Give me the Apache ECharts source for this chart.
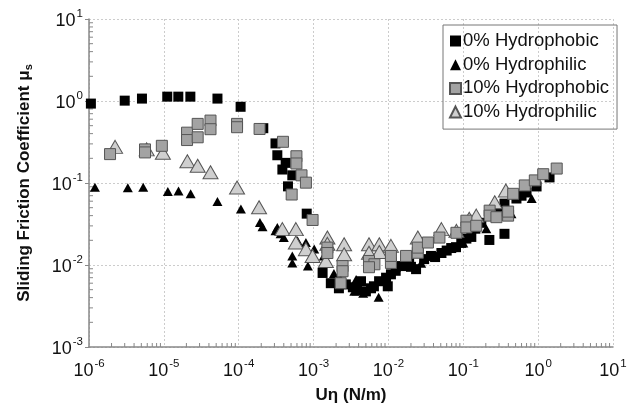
<!DOCTYPE html>
<html>
<head>
<meta charset="utf-8">
<script src="https://cdn.jsdelivr.net/npm/echarts@6/dist/echarts.min.js"></script>
<style>
html,body{margin:0;padding:0;background:#fff;}
#c{width:632px;height:412px;}
</style>
</head>
<body>
<div id="c"></div>
<script>
// Data (Uη in N/m, sliding friction coefficient μs)
const hydrophobic0 = [
  [1.06e-6,0.93],[3.0e-6,1.01],[5.1e-6,1.07],[1.11e-5,1.13],[1.56e-5,1.13],[2.26e-5,1.13],[5.2e-5,1.07],[1.06e-4,0.85],
  [2.13e-4,0.466],[3.1e-4,0.304],[3.28e-4,0.218],[4.24e-4,0.176],[3.83e-4,0.146],[5.2e-4,0.124],[4.55e-4,0.091],[8.1e-4,0.0423],
  [1.32e-3,0.0080],[1.70e-3,0.0060],[2.18e-3,0.0052],[2.7e-3,0.0058],[3.35e-3,0.00535],[3.8e-3,0.0049],[4.3e-3,0.00634],
  [5.0e-3,0.00477],[5.85e-3,0.0052],[6.4e-3,0.0055],[7.5e-3,0.00634],[9.3e-3,0.0070],[9.8e-3,0.0055],[1.08e-2,0.0077],
  [1.25e-2,0.0085],[1.48e-2,0.0097],[1.89e-2,0.0105],[2.0e-2,0.0095],[2.34e-2,0.0089],[3.0e-2,0.0118],[3.7e-2,0.0129],
  [4.2e-2,0.0125],[5.1e-2,0.0140],[6.0e-2,0.0150],[6.9e-2,0.0161],[8.0e-2,0.0165],[9.4e-2,0.0186],[0.11,0.021],[0.128,0.022],
  [0.145,0.0277],[0.174,0.0327],[0.223,0.0202],[0.237,0.040],[0.3,0.045],[0.355,0.024],[0.355,0.056],[0.513,0.0647],
  [0.6,0.070],[0.70,0.0766],[0.953,0.0908],[1.42,0.117]
];
const hydrophilic0 = [
  [1.2e-6,0.089],[3.3e-6,0.0876],[5.3e-6,0.089],[1.13e-5,0.0788],[1.57e-5,0.080],[2.28e-5,0.0738],[5.2e-5,0.0594],
  [1.07e-4,0.0483],[1.92e-4,0.033],[2.08e-4,0.0292],[3.28e-4,0.0287],[3.1e-4,0.0261],[3.63e-4,0.024],[4.0e-4,0.0216],
  [5.2e-4,0.0129],[5.2e-4,0.0106],[6.1e-4,0.0197],[7.9e-4,0.0188],[1.02e-3,0.0157],[8.4e-4,0.0097],[1.37e-3,0.0129],
  [1.87e-3,0.0079],[2.3e-3,0.0067],[3.7e-3,0.00665],[3.5e-3,0.00477],[4.6e-3,0.00451],[7.4e-3,0.00403],[1.26e-2,0.0094],
  [2.74e-2,0.0105],[5.1e-2,0.0140],[0.1,0.0186],[0.203,0.0277],[0.44,0.0423],[0.82,0.0647]
];
const hydrophobic10 = [
  [1.91e-6,0.225],[5.6e-6,0.257],[5.6e-6,0.236],[9.4e-6,0.284],[2.04e-5,0.411],[2.04e-5,0.334],[2.83e-5,0.526],
  [2.83e-5,0.361],[4.2e-5,0.577],[4.2e-5,0.453],[9.5e-5,0.526],[9.5e-5,0.479],[1.9e-4,0.456],[3.9e-4,0.318],
  [5.9e-4,0.212],[5.9e-4,0.173],[6.9e-4,0.124],[7.9e-4,0.101],[5.1e-4,0.0724],[9.7e-4,0.0354],[1.53e-3,0.0163],
  [1.53e-3,0.0140],[2.44e-3,0.0097],[2.44e-3,0.0084],[2.3e-3,0.0060],[5.5e-3,0.0112],[6.5e-3,0.0102],[5.5e-3,0.0094],
  [1.08e-2,0.0106],[1.08e-2,0.0129],[1.72e-2,0.0129],[2.47e-2,0.0141],[2.47e-2,0.0163],[3.37e-2,0.0188],[4.8e-2,0.0216],
  [8.1e-2,0.0247],[0.11,0.0347],[0.11,0.0287],[0.149,0.0301],[0.225,0.046],[0.225,0.040],[0.277,0.0383],[0.397,0.040],
  [0.397,0.0448],[0.464,0.0738],[0.663,0.0934],[0.903,0.1076],[1.17,0.128],[1.77,0.150]
];
const hydrophilic10 = [
  [2.23e-6,0.276],[5.9e-6,0.257],[9.7e-6,0.234],[2.06e-5,0.184],[2.83e-5,0.162],[4.2e-5,0.135],[9.5e-5,0.0883],
  [1.87e-4,0.0505],[3.83e-4,0.0274],[5.8e-4,0.0274],[5.8e-4,0.0188],[7.9e-4,0.0156],[9.7e-4,0.0129],[1.53e-3,0.0216],
  [1.53e-3,0.0181],[1.46e-3,0.0112],[2.56e-3,0.0179],[2.56e-3,0.0135],[5.5e-3,0.0179],[7.55e-3,0.0179],[1.08e-2,0.0171],
  [5.5e-3,0.0141],[7.55e-3,0.0144],[2.47e-2,0.0216],[5.1e-2,0.0274],[8.1e-2,0.0261],[0.12,0.0367],[0.149,0.040],
  [0.263,0.0582],[0.37,0.0811]
];
const seriesNames = ['0% Hydrophobic','0% Hydrophilic','10% Hydrophobic','10% Hydrophilic'];
const xRange = [1e-6, 10];
const yRange = [1e-3, 10];

// minor ticks (2..9 x 10^k) for log axes
const minorTicks = [];
for (let k = -6; k < 1; k++) for (let m = 2; m <= 9; m++) minorTicks.push([m * Math.pow(10, k), yRange[0], 0]);
for (let k = -3; k < 1; k++) for (let m = 2; m <= 9; m++) minorTicks.push([xRange[0], m * Math.pow(10, k), 1]);

const font = 'Liberation Sans, Arial, sans-serif';
const fmt = v => '{b|10}{s|' + Math.round(Math.log10(v)) + '}';
const labelRich = {
  b: {fontSize: 18, fontFamily: font, color: '#111', lineHeight: 22, verticalAlign: 'bottom'},
  s: {fontSize: 11.5, fontFamily: font, color: '#111', lineHeight: 22, verticalAlign: 'top', padding:[0,0,0,1]}
};

const chart = echarts.init(document.getElementById('c'), null, {renderer: 'canvas'});
chart.setOption({
  animation: false,
  backgroundColor: '#fff',
  grid: {left: 89, right: 19, top: 19, bottom: 65},
  legend: {
    data: seriesNames,
    orient: 'vertical',
    left: 443, top: 25,
    padding: [6, 8, 7, 6],
    itemGap: 3.7,
    itemWidth: 11, itemHeight: 11,
    borderColor: '#777', borderWidth: 1,
    textStyle: {fontSize: 18.5, fontFamily: font, color: '#111', lineHeight: 20, padding: [0,0,0,-3]}
  },
  xAxis: {
    type: 'log', logBase: 10, min: xRange[0], max: xRange[1],
    name: 'Uη (N/m)', nameLocation: 'middle', nameGap: 40,
    nameTextStyle: {fontSize: 17, fontWeight: 'bold', fontFamily: font, color: '#111'},
    axisLine: {lineStyle: {color: '#888', width: 1.5}},
    axisTick: {show: false},
    axisLabel: {formatter: fmt, rich: labelRich, margin: 11},
    splitLine: {show: true, lineStyle: {color: '#ccc', type: [2, 2], width: 1}}
  },
  yAxis: {
    type: 'log', logBase: 10, min: yRange[0], max: yRange[1],
    name: 'Sliding Friction Coefficient μ{sub|s}', nameLocation: 'middle', nameGap: 55,
    nameTextStyle: {fontSize: 17, fontWeight: 'bold', fontFamily: font, color: '#111',
      rich: {sub: {fontSize: 11, fontWeight: 'bold', fontFamily: font, color: '#111', verticalAlign: 'bottom', lineHeight: 20}}},
    axisLine: {show: true, lineStyle: {color: '#888', width: 1.5}},
    axisTick: {show: true, inside: false, length: 4, lineStyle: {color: '#888'}},
    axisLabel: {formatter: fmt, rich: labelRich, margin: 6},
    splitLine: {show: true, lineStyle: {color: '#ccc', type: [2, 2], width: 1}}
  },
  series: [
    {
      type: 'custom', silent: true, clip: false, z: 1,
      data: minorTicks,
      encode: {x: 0, y: 1},
      renderItem: (params, api) => {
        const p = api.coord([api.value(0), api.value(1)]);
        const isY = api.value(2) === 1;
        return {
          type: 'line',
          shape: isY ? {x1: p[0], y1: p[1], x2: p[0] + 4, y2: p[1]} : {x1: p[0], y1: p[1], x2: p[0], y2: p[1] - 4},
          style: {stroke: '#888', lineWidth: 1}
        };
      }
    },
    {
      name: seriesNames[0], type: 'scatter', data: hydrophobic0, symbol: 'rect', symbolSize: 10, z: 2,
      itemStyle: {color: '#000', opacity: 1}
    },
    {
      name: seriesNames[1], type: 'scatter', data: hydrophilic0, symbol: 'triangle', symbolSize: [10, 9], z: 2,
      itemStyle: {color: '#000', opacity: 1}
    },
    {
      name: seriesNames[3], type: 'scatter', data: hydrophilic10, symbol: 'triangle', symbolSize: [15, 13], z: 3,
      itemStyle: {color: '#cfcfcf', borderColor: '#555', borderWidth: 1, opacity: 1}
    },
    {
      name: seriesNames[2], type: 'scatter', data: hydrophobic10, symbol: 'rect', symbolSize: 11, z: 4,
      itemStyle: {color: '#a3a3a3', borderColor: '#555', borderWidth: 1, opacity: 1}
    }
  ]
});
</script>
</body>
</html>
